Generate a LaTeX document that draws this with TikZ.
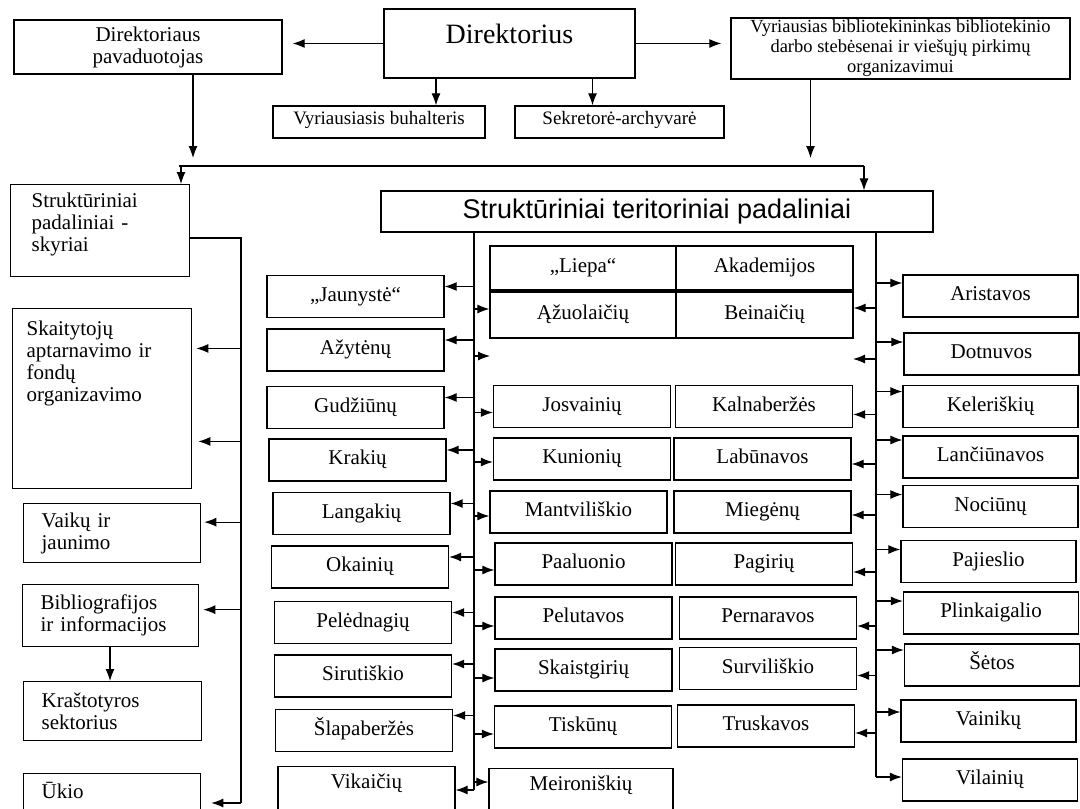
\documentclass[tikz,border=0pt]{standalone}
\usepackage{fontspec}
\setmainfont{Liberation Serif}
\newfontfamily\arialfont{Liberation Sans}
\usetikzlibrary{arrows.meta}

\tikzset{
	box/.style={draw, line width=1.3pt, inner sep=2pt, font=\fontsize{21}{22}\selectfont},
	tbox/.style={box, minimum width=177pt, minimum height=42pt, text height=14pt, text depth=5pt},
	lbox/.style={box, anchor=north west, align=left, inner xsep=18pt},
	ln/.style={line width=1.1pt},
	arr/.style={ln, -{Latex[length=12pt,width=9pt]}}
}

\begin{document}
\begin{tikzpicture}[x=1pt,y=-1pt]
	\useasboundingbox (0,0) rectangle (1080,809);
	\clip (0,0) rectangle (1080,809);

	%top boxes
	\node[box, minimum width=268pt, minimum height=54pt, align=center] (pav) at (148,47) {Direktoriaus\\pavaduotojas};
	\node[box, minimum width=251pt, minimum height=69pt, text depth=20pt, font=\fontsize{28}{30}\selectfont] (dir) at (509.5,43.5) {Direktorius};
	\node[box, minimum width=339pt, minimum height=59pt, align=center, font=\fontsize{18.5}{20}\selectfont] (vyr) at (900.5,48.5) {Vyriausias bibliotekininkas bibliotekinio\\darbo stebėsenai ir viešųjų pirkimų\\organizavimui};
	\node[box, minimum width=212pt, minimum height=32pt, text height=13pt, text depth=8pt, font=\fontsize{19}{20}\selectfont] (buh) at (379,122) {Vyriausiasis buhalteris};
	\node[box, minimum width=209pt, minimum height=32pt, text height=13pt, text depth=8pt, font=\fontsize{19}{20}\selectfont] (sekr) at (619.5,122) {Sekretorė-archyvarė};
	\node[box, minimum width=552pt, minimum height=41pt, font=\arialfont\fontsize{27}{30}\selectfont] (terit) at (657,211.5) {Struktūriniai teritoriniai padaliniai};

	%left column
	\node[lbox, text width=137pt, inner xsep=21pt, inner ysep=8pt, text depth=61pt] (skyr) at (10,184) {Struktūriniai\\padaliniai -\\skyriai};
	\node[lbox, text width=151pt, inner xsep=14pt, inner ysep=12pt, text depth=141pt] (skait) at (12,308) {Skaitytojų\\aptarnavimo ir\\fondų\\organizavimo};
	\node[lbox, text width=141pt, minimum height=59pt] (vaik) at (23,503) {Vaikų ir\\jaunimo};
	\node[lbox, text width=140pt, minimum height=62pt] (bibl) at (22,584) {Bibliografijos\\ir informacijos};
	\node[lbox, text width=142pt, minimum height=59pt] (krast) at (23,681) {Kraštotyros\\sektorius};
	\node[lbox, text width=141pt, inner ysep=9pt, text depth=25pt] (ukio) at (23,773) {Ūkio};

	%middle column, left
	\node[tbox] (jaun)  at (355.5,296.5) {„Jaunystė“};
	\node[tbox] (azyt)  at (355.5,350)   {Ažytėnų};
	\node[tbox] (gudz)  at (355.5,407.5) {Gudžiūnų};
	\node[tbox] (krak)  at (357.5,460)   {Krakių};
	\node[tbox] (lang)  at (361.5,513.5) {Langakių};
	\node[tbox] (okai)  at (360,567)     {Okainių};
	\node[tbox] (peled) at (363,622.5)   {Pelėdnagių};
	\node[tbox] (sirut) at (363,676)     {Sirutiškio};
	\node[tbox] (slap)  at (364,730.5)   {Šlapaberžės};
	\node[tbox, anchor=north, inner ysep=8pt, text depth=25pt] (vikai) at (366.5,766) {Vikaičių};

	%middle column, block
	\node[tbox, minimum width=186pt, minimum height=44pt] (liepa) at (583,268)   {„Liepa“};
	\node[tbox, minimum height=44pt]                      (akad)  at (764.5,268) {Akademijos};
	\node[tbox, minimum width=186pt, minimum height=46pt] (azuol) at (583,315)   {Ąžuolaičių};
	\node[tbox, minimum height=46pt]                      (bein)  at (764.5,315) {Beinaičių};

	%middle column, pairs
	\node[tbox] (josv)  at (582,406.5)   {Josvainių};
	\node[tbox] (kaln)  at (764,406.5)   {Kalnaberžės};
	\node[tbox] (kun)   at (582,459)     {Kunionių};
	\node[tbox] (lab)   at (762.5,459)   {Labūnavos};
	\node[tbox] (mant)  at (578.5,512)   {Mantviliškio};
	\node[tbox] (mieg)  at (762.5,512)   {Miegėnų};
	\node[tbox] (paal)  at (583.5,564)   {Paaluonio};
	\node[tbox] (pagir) at (764,564)     {Pagirių};
	\node[tbox] (pelut) at (583.5,618)   {Pelutavos};
	\node[tbox] (pern)  at (768,618)     {Pernaravos};
	\node[tbox] (skais) at (583.5,670)   {Skaistgirių};
	\node[tbox] (surv)  at (768,668.5)   {Surviliškio};
	\node[tbox] (tisk)  at (583,727)     {Tiskūnų};
	\node[tbox] (trusk) at (766,726)     {Truskavos};
	\node[tbox, minimum width=184pt, anchor=north, inner ysep=8pt, text depth=25pt] (meir) at (581,768) {Meironiškių};

	%right column
	\node[tbox, minimum width=175pt] (arist)  at (990.5,296)   {Aristavos};
	\node[tbox, minimum width=175pt] (dotn)   at (991.5,354)   {Dotnuvos};
	\node[tbox, minimum width=175pt] (keler)  at (990.5,406.5) {Keleriškių};
	\node[tbox, minimum width=175pt] (lanc)   at (990.5,457)   {Lančiūnavos};
	\node[tbox, minimum width=175pt] (noc)    at (990.5,506.5) {Nociūnų};
	\node[tbox, minimum width=175pt] (pajies) at (988.5,561.5) {Pajieslio};
	\node[tbox, minimum width=175pt] (plink)  at (991,613)     {Plinkaigalio};
	\node[tbox, minimum width=175pt] (setos)  at (992,665)     {Šėtos};
	\node[tbox, minimum width=175pt] (vain)   at (988.5,721)   {Vainikų};
	\node[tbox, minimum width=175pt] (vil)    at (990,780)     {Vilainių};

	%top lines
	\coordinate (tbL) at (181,166);
	\coordinate (tbR) at (864,166);
	\draw[arr, shorten >=10pt] (dir.west) -- (dir.west -| pav.east);
	\draw[arr, shorten >=9pt]  (dir.east) -- (dir.east -| vyr.west);
	\draw[arr] ([xshift=57pt]buh.north |- dir.south) -- ([xshift=57pt]buh.north);
	\draw[arr] ([xshift=-27pt]sekr.north |- dir.south) -- ([xshift=-27pt]sekr.north);
	\draw[arr, shorten >=8pt] ([xshift=45pt]pav.south) -- ([xshift=45pt]pav.south |- tbL);
	\draw[arr, shorten >=8pt] ([xshift=-90pt]vyr.south) -- ([xshift=-90pt]vyr.south |- tbL);
	\draw[ln] ([xshift=-2pt]tbL) -- (tbR);
	\draw[arr] (tbL) -- (tbL |- skyr.north);
	\draw[arr] (tbR) -- (tbR |- terit.north);

	%left bus
	\coordinate (lb) at (241,238);
	\coordinate (lbend) at (241,803);
	\draw[ln] (lb -| skyr.east) -- (lb) -- (lbend);
	\draw[arr, shorten >=4pt] ([yshift=50pt]skait.east -| lb) -- ([yshift=50pt]skait.east);
	\draw[arr, shorten >=6pt] ([yshift=-43pt]skait.east -| lb) -- ([yshift=-43pt]skait.east);
	\draw[arr, shorten >=3pt] ([yshift=11pt]vaik.east -| lb) -- ([yshift=11pt]vaik.east);
	\draw[arr, shorten >=4pt] ([yshift=6pt]bibl.east -| lb) -- ([yshift=6pt]bibl.east);
	\draw[arr, shorten >=10pt] (lbend) -- (lbend -| ukio.east);
	\draw[arr] (bibl.south -| 110,0) -- (krast.north -| 110,0);

	%middle bus
	\coordinate (mb) at (474,232);
	\coordinate (mbend) at (474,790);
	\coordinate (mfree) at (490,356);
	\draw[ln] (mb) -- (mbend);
	\draw[arr] ([yshift=10pt]jaun.east -| mb)  -- ([yshift=10pt]jaun.east);
	\draw[arr] ([yshift=10pt]azyt.east -| mb)  -- ([yshift=10pt]azyt.east);
	\draw[arr] ([yshift=10pt]gudz.east -| mb)  -- ([yshift=10pt]gudz.east);
	\draw[arr] ([yshift=10pt]krak.east -| mb)  -- ([yshift=10pt]krak.east);
	\draw[arr] ([yshift=10pt]lang.east -| mb)  -- ([yshift=10pt]lang.east);
	\draw[arr] ([yshift=10pt]okai.east -| mb)  -- ([yshift=10pt]okai.east);
	\draw[arr] ([yshift=10pt]peled.east -| mb) -- ([yshift=10pt]peled.east);
	\draw[arr] ([yshift=12pt]sirut.east -| mb) -- ([yshift=12pt]sirut.east);
	\draw[arr] ([yshift=15pt]slap.east -| mb)  -- ([yshift=15pt]slap.east);
	\draw[arr] (mbend) -- (mbend -| vikai.east);
	\draw[arr] ([yshift=6pt]azuol.west -| mb)   -- ([yshift=6pt]azuol.west);
	\draw[arr] (mfree -| mb) -- (mfree);
	\draw[arr] ([yshift=-6pt]josv.west -| mb)  -- ([yshift=-6pt]josv.west);
	\draw[arr] ([yshift=-3pt]kun.west -| mb)   -- ([yshift=-3pt]kun.west);
	\draw[arr] ([yshift=-4pt]mant.west -| mb)  -- ([yshift=-4pt]mant.west);
	\draw[arr] ([yshift=-6pt]paal.west -| mb)  -- ([yshift=-6pt]paal.west);
	\draw[arr] ([yshift=-8pt]pelut.west -| mb) -- ([yshift=-8pt]pelut.west);
	\draw[arr] ([yshift=-8pt]skais.west -| mb) -- ([yshift=-8pt]skais.west);
	\draw[arr] ([yshift=-7pt]tisk.west -| mb)  -- ([yshift=-7pt]tisk.west);
	\draw[arr] ([yshift=8pt]mbend) -- ([yshift=8pt]mbend -| meir.west);

	%right bus
	\coordinate (rb) at (876,232);
	\coordinate (rbend) at (876,777);
	\coordinate (rfree) at (853,359);
	\draw[ln] (rb) -- (rbend);
	\draw[arr] ([yshift=7pt]bein.east -| rb)    -- ([yshift=7pt]bein.east);
	\draw[arr] (rfree -| rb) -- (rfree);
	\draw[arr] ([yshift=-8pt]kaln.east -| rb)   -- ([yshift=-8pt]kaln.east);
	\draw[arr] ([yshift=-5pt]lab.east -| rb)    -- ([yshift=-5pt]lab.east);
	\draw[arr] ([yshift=-3pt]mieg.east -| rb)   -- ([yshift=-3pt]mieg.east);
	\draw[arr] ([yshift=-8pt]pagir.east -| rb)  -- ([yshift=-8pt]pagir.east);
	\draw[arr] ([yshift=-8pt]pern.east -| rb)   -- ([yshift=-8pt]pern.east);
	\draw[arr] ([yshift=-7pt]surv.east -| rb)   -- ([yshift=-7pt]surv.east);
	\draw[arr] ([yshift=-7pt]trusk.east -| rb)  -- ([yshift=-7pt]trusk.east);
	\draw[arr] ([yshift=13pt]arist.west -| rb)  -- ([yshift=13pt]arist.west);
	\draw[arr] ([yshift=12pt]dotn.west -| rb)   -- ([yshift=12pt]dotn.west);
	\draw[arr] ([yshift=15pt]keler.west -| rb)  -- ([yshift=15pt]keler.west);
	\draw[arr] ([yshift=17pt]lanc.west -| rb)   -- ([yshift=17pt]lanc.west);
	\draw[arr] ([yshift=12pt]noc.west -| rb)    -- ([yshift=12pt]noc.west);
	\draw[arr] ([yshift=12pt]pajies.west -| rb) -- ([yshift=12pt]pajies.west);
	\draw[arr] ([yshift=12pt]plink.west -| rb)  -- ([yshift=12pt]plink.west);
	\draw[arr] ([yshift=15pt]setos.west -| rb)  -- ([yshift=15pt]setos.west);
	\draw[arr] ([yshift=9pt]vain.west -| rb)    -- ([yshift=9pt]vain.west);
	\draw[arr] (rbend) -- (rbend -| vil.west);
\end{tikzpicture}
\end{document}
